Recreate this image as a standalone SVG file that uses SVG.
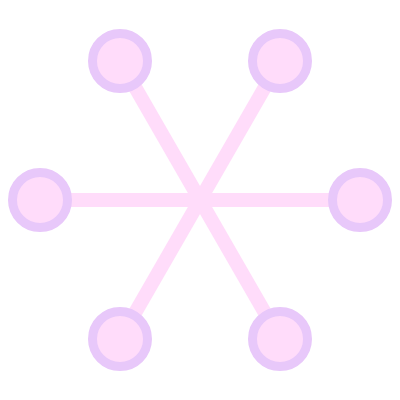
<svg xmlns="http://www.w3.org/2000/svg" width="400" height="400" viewBox="0 0 400 400">
<style>
.edge{stroke:#ffdcfa;stroke-width:14;stroke-linecap:butt}
.node{fill:#ffdcfa;stroke:#e8c8fa;stroke-width:9}
</style>
<rect width="400" height="400" fill="#ffffff"/>
<g id="connectors">
<line class="edge" x1="40" y1="200" x2="360" y2="200"/>
<line class="edge" x1="120" y1="61" x2="280" y2="339"/>
<line class="edge" x1="280" y1="61" x2="120" y2="339"/>
</g>
<g id="n1"><circle class="node" cx="120" cy="61" r="27.5"/></g>
<g id="n2"><circle class="node" cx="280" cy="61" r="27.5"/></g>
<g id="n3"><circle class="node" cx="40" cy="200" r="27.5"/></g>
<g id="n4"><circle class="node" cx="360" cy="200" r="27.5"/></g>
<g id="n5"><circle class="node" cx="120" cy="339" r="27.5"/></g>
<g id="n6"><circle class="node" cx="280" cy="339" r="27.5"/></g>
</svg>
